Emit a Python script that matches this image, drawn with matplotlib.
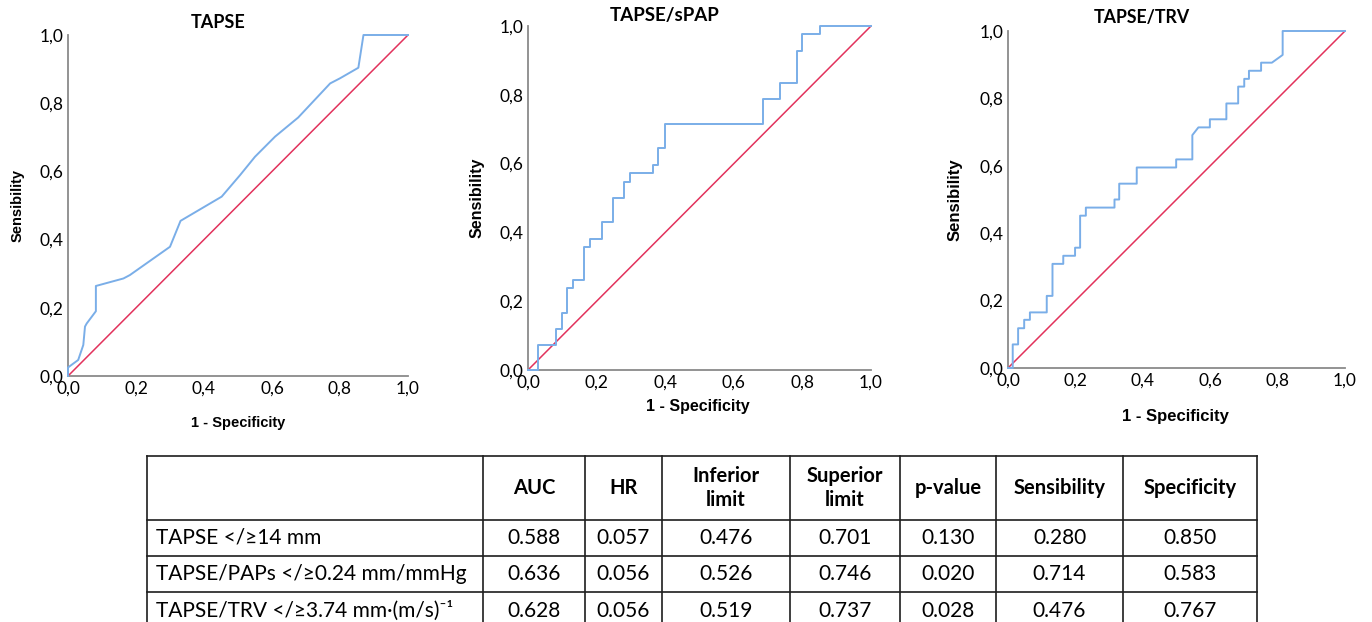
import matplotlib.pyplot as plt

# ---- data ----
tick_vals = [0.0, 0.2, 0.4, 0.6, 0.8, 1.0]
tick_labels = ['0,0', '0,2', '0,4', '0,6', '0,8', '1,0']
diag = [0, 1]

# TAPSE
fpr_tapse = [0, 0, 0.03, 0.045, 0.05, 0.055, 0.082, 0.082, 0.163, 0.182, 0.30,
             0.331, 0.452, 0.506, 0.55, 0.609, 0.677, 0.771, 0.80, 0.854, 0.869, 1.0]
tpr_tapse = [0, 0.025, 0.047, 0.091, 0.145, 0.154, 0.19, 0.264, 0.286, 0.296, 0.379,
             0.455, 0.526, 0.589, 0.643, 0.702, 0.758, 0.858, 0.873, 0.904, 1.0, 1.0]

# TAPSE/sPAP
fpr_spap = [0, 0.030, 0.030, 0.081, 0.081, 0.098, 0.098, 0.113, 0.113, 0.132, 0.132,
            0.164, 0.164, 0.181, 0.181, 0.215, 0.215, 0.247, 0.247, 0.281, 0.281,
            0.297, 0.297, 0.365, 0.365, 0.380, 0.380, 0.399, 0.399, 0.684, 0.684,
            0.735, 0.735, 0.784, 0.784, 0.800, 0.800, 0.850, 0.850, 1.0]
tpr_spap = [0, 0, 0.073, 0.073, 0.118, 0.118, 0.166, 0.166, 0.237, 0.237, 0.262,
            0.262, 0.359, 0.359, 0.381, 0.381, 0.429, 0.429, 0.499, 0.499, 0.547,
            0.547, 0.572, 0.572, 0.596, 0.596, 0.644, 0.644, 0.714, 0.714, 0.787,
            0.787, 0.833, 0.833, 0.928, 0.928, 0.977, 0.977, 1.0, 1.0]

# TAPSE/TRV
fpr_trv = [0, 0.014, 0.014, 0.030, 0.030, 0.048, 0.048, 0.065, 0.065, 0.115, 0.115,
           0.132, 0.132, 0.164, 0.164, 0.199, 0.199, 0.214, 0.214, 0.231, 0.231,
           0.316, 0.316, 0.330, 0.330, 0.382, 0.382, 0.499, 0.499, 0.547, 0.547,
           0.565, 0.599, 0.599, 0.648, 0.648, 0.683, 0.683, 0.701, 0.701, 0.715,
           0.715, 0.751, 0.751, 0.783, 0.815, 0.815, 1.0]
tpr_trv = [0, 0, 0.070, 0.070, 0.118, 0.118, 0.143, 0.143, 0.165, 0.165, 0.214,
           0.214, 0.309, 0.309, 0.333, 0.333, 0.357, 0.357, 0.452, 0.452, 0.476,
           0.476, 0.500, 0.500, 0.547, 0.547, 0.595, 0.595, 0.619, 0.619, 0.691,
           0.714, 0.714, 0.738, 0.738, 0.785, 0.785, 0.835, 0.835, 0.858, 0.858,
           0.882, 0.882, 0.906, 0.906, 0.929, 1.0, 1.0]

titles = ['TAPSE', 'TAPSE/sPAP', 'TAPSE/TRV']

col_headers = ['', 'AUC', 'HR', 'Inferior\nlimit', 'Superior\nlimit', 'p-value',
               'Sensibility', 'Specificity']
row_names = ['TAPSE </≥14 mm', 'TAPSE/PAPs </≥0.24 mm/mmHg',
             'TAPSE/TRV </≥3.74 mm·(m/s)⁻¹']
auc = ['0.588', '0.636', '0.628']
hr = ['0.057', '0.056', '0.056']
inf_lim = ['0.476', '0.526', '0.519']
sup_lim = ['0.701', '0.746', '0.737']
p_val = ['0.130', '0.020', '0.028']
sens = ['0.280', '0.714', '0.476']
spec = ['0.850', '0.583', '0.767']

# ---- figure ----
W, H = 1372, 622
fig = plt.figure(figsize=(W / 100, H / 100), dpi=100)

# overlay in pixel coordinates for free text + table
ov = fig.add_axes([0, 0, 1, 1])
ov.set_xlim(0, W)
ov.set_ylim(H, 0)
ov.axis('off')

blue = '#7aaee8'
red = '#e2325c'
spine = '#8a8a8a'

# axes boxes in pixels: x0, x1, ytop, ybottom
boxes = [(68, 408, 35, 376), (528, 871, 26, 370), (1008, 1345, 31, 368)]
title_pos = [(218, 22), (665, 15), (1142, 17)]
xlab_pos = [(238, 423), (698, 407), (1175, 417)]
ylab_pos = [(18, 205), (477, 198), (955, 200)]
lab_size = [10.5, 11.5, 12]
title_size = [13, 13.5, 12.8]
curves = [(fpr_tapse, tpr_tapse), (fpr_spap, tpr_spap), (fpr_trv, tpr_trv)]

for i, (x0, x1, yt, yb) in enumerate(boxes):
    ax = fig.add_axes([x0 / W, 1 - yb / H, (x1 - x0) / W, (yb - yt) / H])
    fx, ty = curves[i]
    ax.plot(diag, diag, color=red, lw=1.1, clip_on=False, zorder=2)
    ax.plot(fx, ty, color=blue, lw=1.4, clip_on=False, zorder=3)
    ax.set_xlim(0, 1)
    ax.set_ylim(0, 1)
    ax.set_xticks(tick_vals)
    ax.set_xticklabels(tick_labels)
    ax.set_yticks(tick_vals)
    ax.set_yticklabels(tick_labels)
    ax.tick_params(length=0, pad=3.5, labelsize=12.5)
    for lab in ax.get_xticklabels() + ax.get_yticklabels():
        lab.set_fontfamily('Lato')
    for s in ['top', 'right']:
        ax.spines[s].set_visible(False)
    for s in ['left', 'bottom']:
        ax.spines[s].set_color(spine)
        ax.spines[s].set_linewidth(1.3)
    ax.patch.set_alpha(0)

    ov.text(*title_pos[i], titles[i], ha='center', va='center', fontsize=title_size[i],
            fontweight='bold', family='Lato')
    ov.text(*xlab_pos[i], '1 - Specificity', ha='center', va='center',
            fontsize=lab_size[i], fontweight='bold', family='Liberation Sans')
    ov.text(*ylab_pos[i], 'Sensibility', ha='center', va='center', rotation=90,
            fontsize=lab_size[i], fontweight='bold', family='Liberation Sans')

# ---- table ----
col_edges = [147, 483, 585, 662, 790, 900, 996, 1123, 1257]
row_edges = [456, 520, 556, 592, 630]
line_kw = dict(color='#1e1e1e', lw=1.2)
for x in col_edges:
    ov.plot([x, x], [row_edges[0], row_edges[-1]], **line_kw)
for y in row_edges:
    ov.plot([col_edges[0], col_edges[-1]], [y, y], **line_kw)

fam = ['Lato', 'DejaVu Sans']
for j, head in enumerate(col_headers):
    if head:
        cx = (col_edges[j] + col_edges[j + 1]) / 2
        ov.text(cx, (row_edges[0] + row_edges[1]) / 2, head, ha='center', va='center',
                fontsize=14.5, fontweight='bold', family=fam, linespacing=1.2)

columns = [auc, hr, inf_lim, sup_lim, p_val, sens, spec]
for r in range(len(row_names)):
    cy = (row_edges[r + 1] + row_edges[r + 2]) / 2
    ov.text(col_edges[0] + 9, cy, row_names[r], ha='left', va='center',
            fontsize=15, family=fam)
    for j, col in enumerate(columns):
        cx = (col_edges[j + 1] + col_edges[j + 2]) / 2
        ov.text(cx, cy, col[r], ha='center', va='center', fontsize=15, family=fam)

fig.savefig('out.png', dpi=100)
